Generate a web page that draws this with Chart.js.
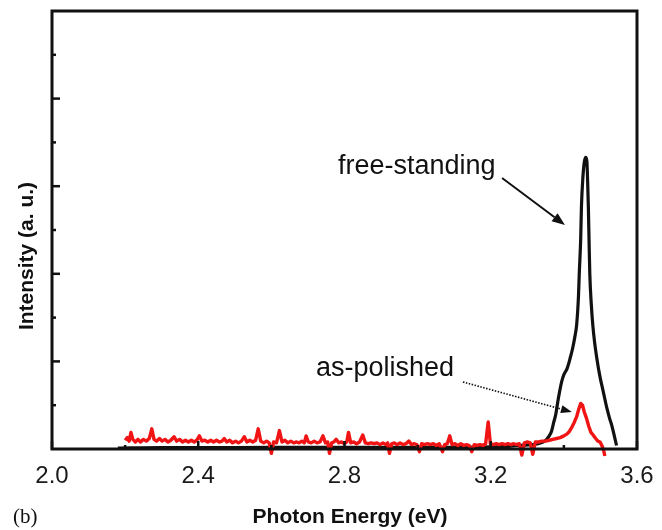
<!DOCTYPE html>
<html>
<head>
<meta charset="utf-8">
<script src="https://cdn.jsdelivr.net/npm/chart.js@4.4.1/dist/chart.umd.min.js"></script>
<style>
  html, body { margin: 0; padding: 0; background: #fff; }
  #wrap { width: 662px; height: 530px; }
</style>
</head>
<body>
<div id="wrap"><canvas id="pl-chart" width="662" height="530"></canvas></div>
<script>
// axis ticks
const energyTicks = [2.0, 2.4, 2.8, 3.2, 3.6];
const energyMinorTicks = [2.2, 2.6, 3.0, 3.4];
const intensityTicks = [1, 2, 3, 4];
const intensityMinorTicks = [0.5, 1.5, 2.5, 3.5, 4.5];

// free-standing (black)
const freeEnergy = [2.18, 2.30, 2.50, 2.70, 2.90, 3.10, 3.20, 3.25, 3.29, 3.33, 3.348, 3.36, 3.366, 3.372, 3.378,
    3.385, 3.394, 3.400, 3.409, 3.418, 3.424, 3.430, 3.435, 3.440, 3.442, 3.446, 3.448, 3.452, 3.456, 3.460,
    3.463, 3.465, 3.467, 3.469, 3.471, 3.475, 3.479, 3.484, 3.490, 3.498, 3.508, 3.518, 3.525, 3.531, 3.538, 3.544];
const freeIntensity = [0.01, 0.015, 0.015, 0.02, 0.02, 0.02, 0.025, 0.03, 0.045, 0.06, 0.09, 0.15, 0.20, 0.30, 0.40,
    0.58, 0.77, 0.85, 0.92, 1.05, 1.15, 1.28, 1.42, 1.75, 1.99, 2.40, 2.76, 3.10, 3.28, 3.33,
    3.28, 3.05, 2.76, 2.35, 1.99, 1.65, 1.42, 1.22, 1.04, 0.84, 0.65, 0.46, 0.35, 0.27, 0.15, 0.04];

// as-polished (red)
const polishedEnergy = [
    2.200, 2.206, 2.211, 2.216, 2.221, 2.228, 2.235, 2.242, 2.250, 2.258, 2.266, 2.273, 2.279, 2.286, 2.294, 2.301,
    2.309, 2.317, 2.325, 2.334, 2.341, 2.349, 2.357, 2.365, 2.373, 2.381, 2.389, 2.396, 2.403, 2.410, 2.418, 2.426,
    2.434, 2.442, 2.450, 2.458, 2.465, 2.471, 2.478, 2.486, 2.494, 2.502, 2.510, 2.518, 2.526, 2.533, 2.541, 2.549,
    2.557, 2.564, 2.571, 2.579, 2.587, 2.594, 2.600, 2.606, 2.614, 2.622, 2.629, 2.637, 2.645, 2.653, 2.661, 2.669,
    2.676, 2.683, 2.690, 2.695, 2.701, 2.709, 2.717, 2.725, 2.733, 2.741, 2.748, 2.754, 2.759, 2.765, 2.771, 2.777,
    2.784, 2.792, 2.800, 2.806, 2.811, 2.817, 2.825, 2.833, 2.841, 2.850, 2.857, 2.865, 2.873, 2.881, 2.889, 2.897,
    2.905, 2.913, 2.918, 2.923, 2.929, 2.936, 2.944, 2.952, 2.960, 2.968, 2.976, 2.983, 2.991, 2.998, 3.005, 3.011,
    3.019, 3.027, 3.035, 3.043, 3.051, 3.059, 3.068, 3.074, 3.081, 3.088, 3.094, 3.102, 3.110, 3.118, 3.126, 3.134,
    3.141, 3.148, 3.155, 3.163, 3.171, 3.179, 3.186, 3.193, 3.199, 3.207, 3.215, 3.223, 3.231, 3.239, 3.247, 3.255,
    3.263, 3.270, 3.278, 3.285, 3.292, 3.300, 3.308, 3.315, 3.322, 3.331, 3.340, 3.350, 3.360, 3.370, 3.380, 3.390,
    3.400, 3.408, 3.415, 3.422, 3.428, 3.435, 3.441, 3.446, 3.451, 3.456, 3.462, 3.468, 3.474, 3.480, 3.487, 3.493,
    3.499, 3.505, 3.509, 3.512];
const polishedIntensity = [
    0.10, 0.13, 0.09, 0.19, 0.11, 0.08, 0.11, 0.08, 0.11, 0.09, 0.12, 0.23, 0.11, 0.09, 0.12, 0.09,
    0.11, 0.08, 0.10, 0.14, 0.09, 0.11, 0.08, 0.10, 0.08, 0.10, 0.08, 0.10, 0.15, 0.09, 0.10, 0.08,
    0.10, 0.08, 0.10, 0.08, 0.09, 0.12, 0.08, 0.10, 0.07, 0.09, 0.07, 0.09, 0.14, 0.08, 0.10, 0.08,
    0.10, 0.23, 0.09, 0.07, 0.09, 0.07, -0.05, 0.08, 0.07, 0.21, 0.08, 0.10, 0.07, 0.09, 0.07, 0.08,
    0.07, 0.09, 0.07, 0.15, 0.08, 0.07, 0.09, 0.07, 0.08, 0.15, 0.07, 0.08, -0.05, 0.07, 0.08, 0.11,
    0.07, 0.08, 0.06, 0.08, 0.19, 0.07, 0.08, 0.06, 0.08, 0.16, 0.07, 0.06, 0.07, 0.06, 0.07, 0.05,
    0.07, 0.05, 0.07, -0.05, 0.06, 0.07, 0.05, 0.07, 0.05, 0.06, 0.09, 0.05, 0.06, 0.05, -0.03, 0.06,
    0.05, 0.06, 0.05, 0.06, 0.04, 0.06, -0.03, 0.05, 0.06, 0.15, 0.05, 0.06, 0.04, 0.06, 0.04, 0.05,
    0.04, -0.03, 0.05, 0.04, 0.05, 0.04, 0.06, 0.31, 0.06, 0.05, 0.06, 0.05, 0.06, 0.05, 0.06, 0.05,
    0.06, 0.05, 0.06, -0.07, 0.07, 0.08, 0.07, -0.06, 0.08, 0.08, 0.09, 0.09, 0.10, 0.11, 0.12, 0.13,
    0.15, 0.17, 0.20, 0.25, 0.30, 0.37, 0.46, 0.52, 0.50, 0.42, 0.35, 0.26, 0.19, 0.16, 0.12, 0.09,
    0.08, 0.03, -0.02, -0.08];

const zip = (xs, ys) => xs.map((x, i) => ({ x: x, y: ys[i] }));

// frame, inward ticks, labels and arrows
const decorPlugin = {
    id: 'decor',
    afterDraw(chart) {
        const { ctx, chartArea: a, scales: { x, y } } = chart;
        ctx.save();
        ctx.strokeStyle = '#111';
        ctx.fillStyle = '#111';
        ctx.lineCap = 'butt';

        // ticks
        ctx.lineWidth = 2.5;
        const tick = (x1, y1, x2, y2) => { ctx.beginPath(); ctx.moveTo(x1, y1); ctx.lineTo(x2, y2); ctx.stroke(); };
        intensityTicks.forEach(v => { const p = y.getPixelForValue(v); tick(a.left, p, a.left + 8, p); });
        intensityMinorTicks.forEach(v => { const p = y.getPixelForValue(v); tick(a.left, p, a.left + 4, p); });
        energyTicks.forEach(v => { const p = x.getPixelForValue(v); tick(p, a.bottom, p, a.bottom - 8); });
        energyMinorTicks.forEach(v => { const p = x.getPixelForValue(v); tick(p, a.bottom, p, a.bottom - 4); });

        // frame
        ctx.lineWidth = 3;
        ctx.strokeRect(a.left, a.top, a.right - a.left, a.bottom - a.top);

        // annotations
        const px = (e, i) => [x.getPixelForValue(e), y.getPixelForValue(i)];
        const arrow = (from, to, dashed, head, half) => {
            const [x1, y1] = px(from[0], from[1]);
            const [x2, y2] = px(to[0], to[1]);
            const ang = Math.atan2(y2 - y1, x2 - x1);
            const bx = x2 - head * Math.cos(ang), by = y2 - head * Math.sin(ang);
            ctx.lineWidth = dashed ? 1.6 : 2;
            ctx.setLineDash(dashed ? [1.5, 1.5] : []);
            tick(x1, y1, bx, by);
            ctx.setLineDash([]);
            ctx.beginPath();
            ctx.moveTo(x2, y2);
            ctx.lineTo(bx + half * Math.sin(ang), by - half * Math.cos(ang));
            ctx.lineTo(bx - half * Math.sin(ang), by + half * Math.cos(ang));
            ctx.closePath();
            ctx.fill();
        };
        ctx.font = '27px "Liberation Sans", Arial, sans-serif';
        ctx.textAlign = 'left';
        ctx.textBaseline = 'alphabetic';
        let [tx, ty] = px(2.782, 3.134);
        ctx.fillText('free-standing', tx, ty);
        arrow([3.231, 3.094], [3.403, 2.557], false, 13, 5);
        [tx, ty] = px(2.722, 0.833);
        ctx.fillText('as-polished', tx, ty);
        arrow([3.124, 0.765], [3.422, 0.422], true, 11, 4);

        // axis titles
        ctx.font = 'bold 21px "Liberation Sans", Arial, sans-serif';
        ctx.textAlign = 'center';
        ctx.fillText('Photon Energy (eV)', 350, 523);
        ctx.save();
        ctx.translate(33, 256);
        ctx.rotate(-Math.PI / 2);
        ctx.fillText('Intensity (a. u.)', 0, 0);
        ctx.restore();

        ctx.font = '21px "Liberation Serif", "Times New Roman", serif';
        ctx.textAlign = 'left';
        ctx.fillText('(b)', 13, 523);
        ctx.restore();
    }
};

new Chart(document.getElementById('pl-chart').getContext('2d'), {
    type: 'scatter',
    data: {
        datasets: [{
            label: 'as-polished',
            data: zip(polishedEnergy, polishedIntensity),
            showLine: true,
            borderColor: '#f01414',
            borderWidth: 3.4,
            pointRadius: 0,
            tension: 0,
            borderJoinStyle: 'round',
            clip: { left: 5, top: 5, right: 5, bottom: 10 }
        }, {
            label: 'free-standing',
            data: zip(freeEnergy, freeIntensity),
            showLine: true,
            borderColor: '#111',
            borderWidth: 3.2,
            pointRadius: 0,
            cubicInterpolationMode: 'monotone',
            borderJoinStyle: 'round',
            clip: { left: 5, top: 5, right: 5, bottom: 10 }
        }]
    },
    options: {
        responsive: false,
        animation: false,
        devicePixelRatio: 1,
        layout: { autoPadding: false, padding: { top: 11, right: 25, left: 0, bottom: 0 } },
        plugins: { legend: { display: false }, tooltip: { enabled: false } },
        scales: {
            x: {
                type: 'linear',
                min: 2.0,
                max: 3.6,
                afterBuildTicks: s => { s.ticks = energyTicks.map(v => ({ value: v })); },
                afterFit: s => { s.height = 81; s.paddingLeft = 0; s.paddingRight = 0; },
                grid: { display: false, drawTicks: false },
                border: { display: false },
                ticks: {
                    padding: 13,
                    color: '#1a1a1a',
                    font: { family: '"Liberation Sans", Arial, sans-serif', size: 24 },
                    callback: v => v.toFixed(1)
                }
            },
            y: {
                min: 0,
                max: 5,
                afterFit: s => { s.width = 52; s.paddingTop = 0; s.paddingBottom = 0; },
                grid: { display: false, drawTicks: false },
                border: { display: false },
                ticks: { display: false }
            }
        }
    },
    plugins: [decorPlugin]
});
</script>
</body>
</html>
